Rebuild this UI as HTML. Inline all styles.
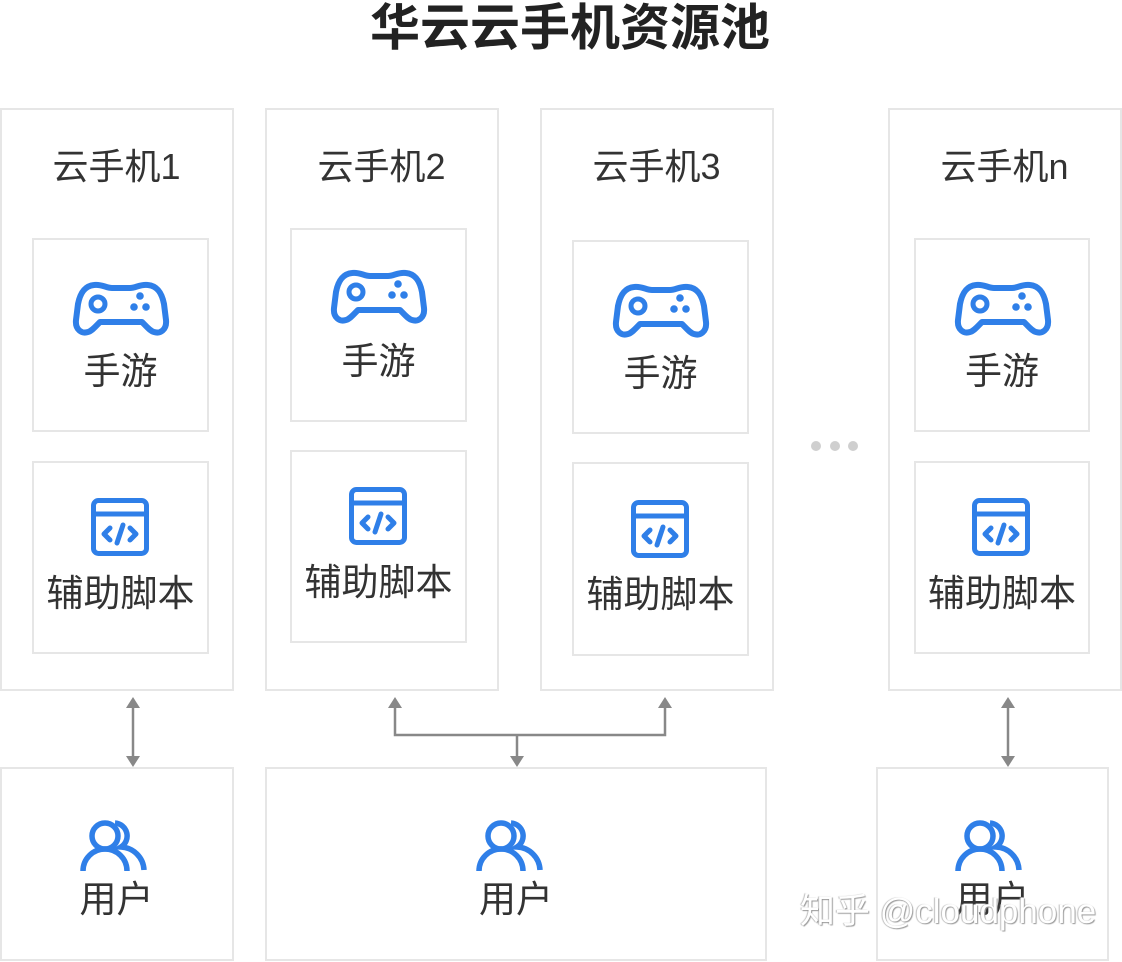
<!DOCTYPE html>
<html><head><meta charset="utf-8"><style>
body{margin:0;width:1122px;height:962px;background:#fff;position:relative;overflow:hidden;font-family:"Liberation Sans","Noto Sans CJK SC",sans-serif;}
.b{position:absolute;border:2px solid #e6e6e6;box-sizing:border-box;}
.t{position:absolute;text-align:center;color:#333;white-space:nowrap;font-size:37px;line-height:44px;}
svg{position:absolute;left:0;top:0;}
</style></head><body>
<div class="t" style="left:0;width:1140px;top:0;font-size:50px;font-weight:bold;line-height:56px;color:#222">华云云手机资源池</div>

<div class="b" style="left:0;top:108px;width:234px;height:583px"></div>
<div class="b" style="left:265px;top:108px;width:234px;height:583px"></div>
<div class="b" style="left:540px;top:108px;width:234px;height:583px"></div>
<div class="b" style="left:888px;top:108px;width:234px;height:583px"></div>

<div class="b" style="left:32px;top:238px;width:177px;height:194px"></div>
<div class="b" style="left:32px;top:461px;width:177px;height:193px"></div>
<div class="b" style="left:290px;top:228px;width:177px;height:194px"></div>
<div class="b" style="left:290px;top:450px;width:177px;height:193px"></div>
<div class="b" style="left:572px;top:240px;width:177px;height:194px"></div>
<div class="b" style="left:572px;top:462px;width:177px;height:194px"></div>
<div class="b" style="left:914px;top:238px;width:176px;height:194px"></div>
<div class="b" style="left:914px;top:461px;width:176px;height:193px"></div>

<div class="b" style="left:0;top:767px;width:234px;height:194px"></div>
<div class="b" style="left:265px;top:767px;width:502px;height:194px"></div>
<div class="b" style="left:876px;top:767px;width:233px;height:194px"></div>

<div class="t" style="left:0;width:233px;top:145px;font-size:36px">云手机1</div>
<div class="t" style="left:265px;width:233px;top:145px;font-size:36px">云手机2</div>
<div class="t" style="left:540px;width:233px;top:145px;font-size:36px">云手机3</div>
<div class="t" style="left:888px;width:233px;top:145px;font-size:36px">云手机n</div>

<div class="t" style="left:32px;width:177px;top:350px">手游</div>
<div class="t" style="left:290px;width:177px;top:340px">手游</div>
<div class="t" style="left:572px;width:177px;top:352px">手游</div>
<div class="t" style="left:914px;width:176px;top:350px">手游</div>

<div class="t" style="left:32px;width:177px;top:572px">辅助脚本</div>
<div class="t" style="left:290px;width:177px;top:561px">辅助脚本</div>
<div class="t" style="left:572px;width:177px;top:573px">辅助脚本</div>
<div class="t" style="left:914px;width:176px;top:572px">辅助脚本</div>

<div class="t" style="left:0;width:233px;top:878px">用户</div>
<div class="t" style="left:265px;width:502px;top:878px">用户</div>
<div class="t" style="left:876px;width:233px;top:878px">用户</div>

<svg width="1122" height="962">
<defs>
<g id="gp" fill="none" stroke="#2f7fe8" stroke-width="6">
<path d="M18,3 C26,2 30,6 36,6 H54 C60,6 64,2 72,3 C82,4 86,12 88,22 L90,38 C91,48 84,52 78,50 C74,49 70,44 66,40 H24 C20,44 16,49 12,50 C6,52 -1,48 0,38 L2,22 C4,12 8,4 18,3 Z" stroke-linejoin="round"/>
<circle cx="22" cy="22" r="7" stroke-width="5"/>
<g fill="#2f7fe8" stroke="none"><circle cx="64" cy="14" r="3.8"/><circle cx="58" cy="25" r="3.8"/><circle cx="70" cy="25" r="3.8"/></g>
</g>
<g id="cd" fill="none" stroke="#2f7fe8" stroke-width="5" stroke-linecap="round" stroke-linejoin="round">
<rect x="2.5" y="2.5" width="53" height="53" rx="5"/>
<line x1="2.5" y1="16" x2="55.5" y2="16"/>
<polyline points="19,30 13,36 19,42"/><polyline points="39,30 45,36 39,42"/><line x1="32" y1="27" x2="26" y2="45"/>
</g>
<g id="us" fill="none" stroke="#2f7fe8" stroke-width="5.5" stroke-linecap="butt">
<circle cx="24" cy="16" r="13"/>
<path d="M2,51 A22,22 0 0 1 46,51"/>
<path d="M34,3 A13,13 0 0 1 40,27 A24,24 0 0 1 63,50"/>
</g>
</defs>
<use href="#gp" x="76" y="282"/><use href="#gp" x="334" y="270"/><use href="#gp" x="616" y="284"/><use href="#gp" x="958" y="282"/>
<use href="#cd" x="91" y="498"/><use href="#cd" x="349" y="487"/><use href="#cd" x="631" y="500"/><use href="#cd" x="972" y="498"/>
<use href="#us" x="81" y="820"/><use href="#us" x="477" y="820"/><use href="#us" x="956" y="820"/>
<g stroke="#888" stroke-width="2.5" fill="none">
<line x1="133" y1="705" x2="133" y2="759"/>
<line x1="1008" y1="705" x2="1008" y2="759"/>
<polyline points="395,705 395,735 665,735 665,705"/>
<line x1="517" y1="735" x2="517" y2="759"/>
</g>
<g fill="#888">
<polygon points="133,697 126,708 140,708"/><polygon points="133,767 126,756 140,756"/>
<polygon points="1008,697 1001,708 1015,708"/><polygon points="1008,767 1001,756 1015,756"/>
<polygon points="395,697 388,708 402,708"/><polygon points="665,697 658,708 672,708"/>
<polygon points="517,767 510,756 524,756"/>
</g>
<g fill="#cfcfcf"><circle cx="816" cy="446" r="5"/><circle cx="835" cy="446" r="5"/><circle cx="853" cy="446" r="5"/></g>
</svg>
<div class="t" style="left:800px;top:890px;font-size:35px;color:#fff;text-shadow:1px 1px 1px #999,-1px 0 1px #bbb">知乎 @cloudphone</div>
</body></html>
